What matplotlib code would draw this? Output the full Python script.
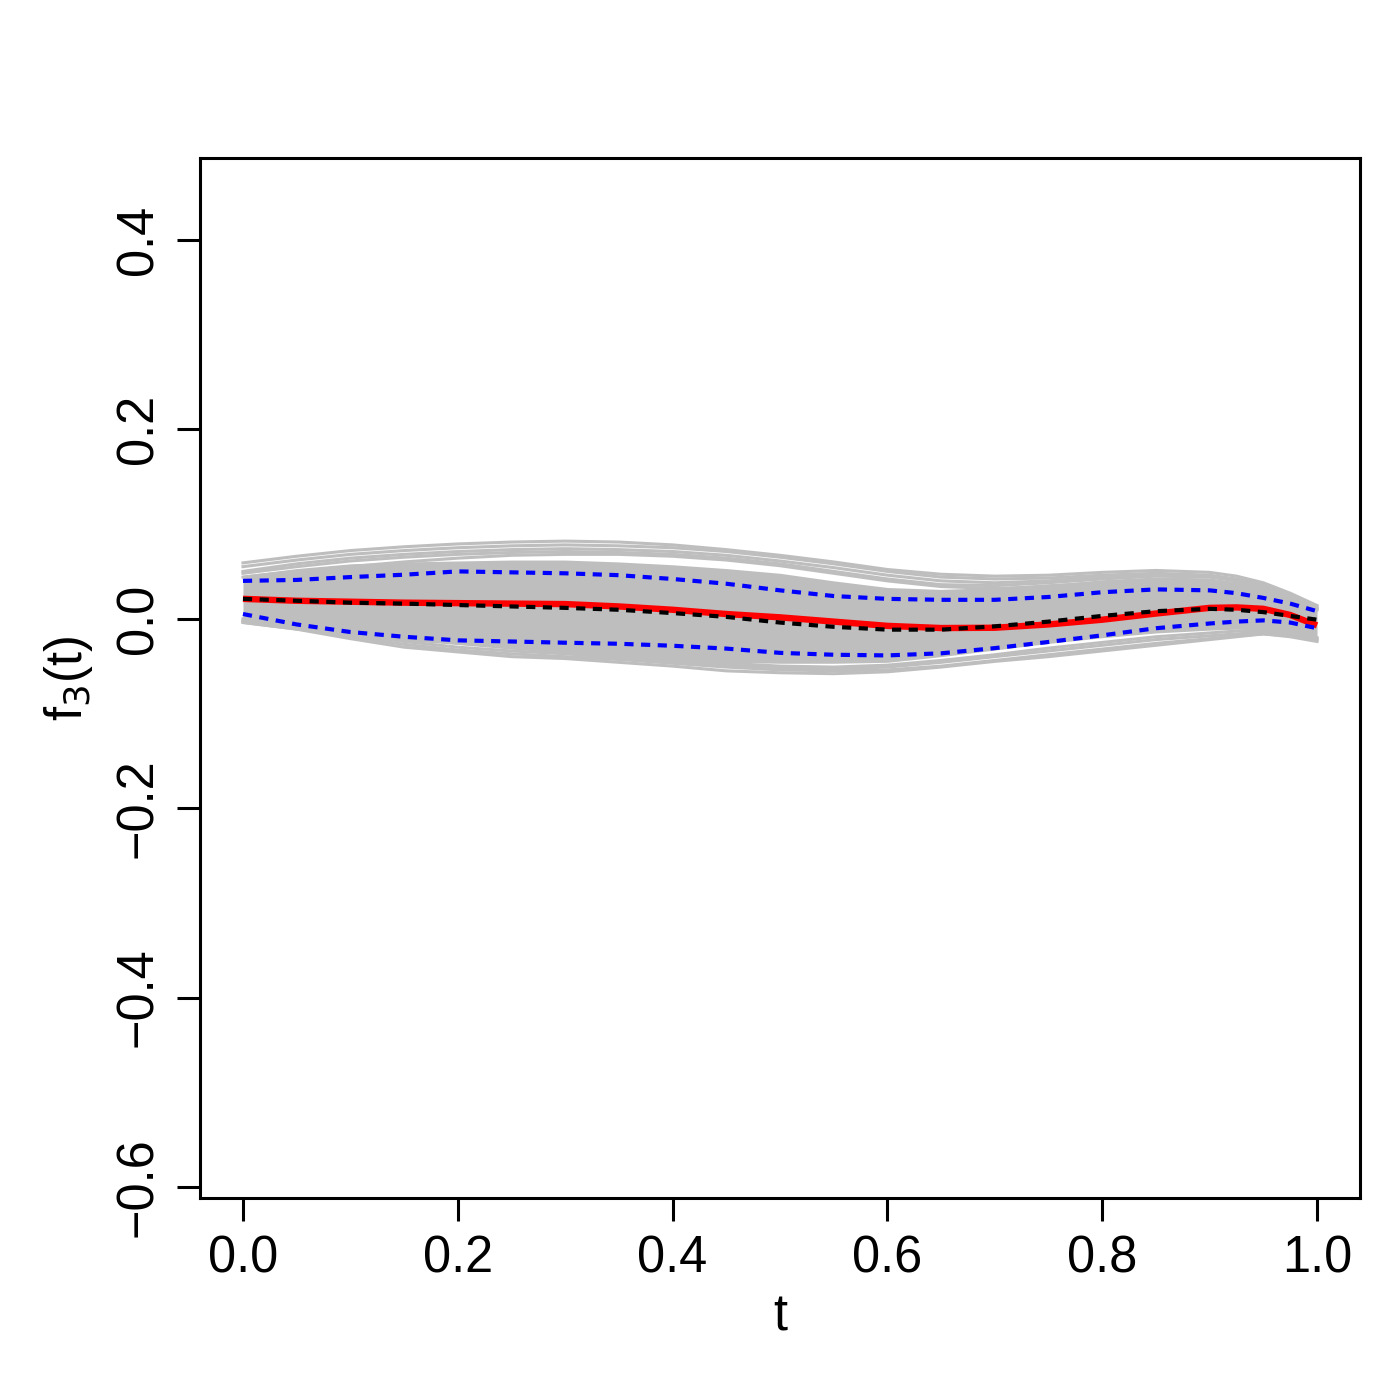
import numpy as np
import matplotlib
matplotlib.use("Agg")
import matplotlib.pyplot as plt

plt.rcParams["font.family"] = ["Liberation Sans", "DejaVu Sans"]

# grid of t values (a little denser near the right end)
t = [0.00, 0.05, 0.10, 0.15, 0.20, 0.25, 0.30, 0.35, 0.40, 0.45, 0.50,
     0.55, 0.60, 0.65, 0.70, 0.75, 0.80, 0.85, 0.90, 0.925, 0.95, 0.975, 1.00]

# true function (red)
f_true = [0.021, 0.019, 0.018, 0.017, 0.0165, 0.016, 0.0155, 0.013, 0.0095, 0.005, 0.0015,
          -0.003, -0.0075, -0.0098, -0.0095, -0.006, -0.001, 0.0055, 0.0115, 0.012, 0.0105, 0.004, -0.007]

# mean estimate (black dashed)
f_mean = [0.021, 0.019, 0.017, 0.016, 0.0145, 0.013, 0.0115, 0.0095, 0.006, 0.002, -0.004,
          -0.0085, -0.0115, -0.0115, -0.008, -0.003, 0.003, 0.008, 0.0105, 0.0095, 0.007, 0.003, -0.001]

# pointwise band (blue dashed)
f_upper = [0.040, 0.041, 0.044, 0.0465, 0.050, 0.049, 0.048, 0.046, 0.042, 0.037, 0.030,
           0.024, 0.021, 0.020, 0.020, 0.023, 0.028, 0.031, 0.030, 0.027, 0.022, 0.016, 0.008]
f_lower = [0.005, -0.006, -0.014, -0.019, -0.0228, -0.024, -0.0253, -0.0264, -0.0285, -0.0315, -0.036,
           -0.038, -0.0387, -0.0365, -0.031, -0.0245, -0.0175, -0.010, -0.005, -0.003, -0.0017, -0.004, -0.010]

# dense core of the replicate estimates (gray)
core_hi = [0.046, 0.053, 0.058, 0.060, 0.061, 0.062, 0.062, 0.060, 0.057, 0.053, 0.048,
           0.040, 0.033, 0.031, 0.033, 0.037, 0.040, 0.043, 0.042, 0.039, 0.033, 0.024, 0.012]
core_lo = [-0.005, -0.012, -0.018, -0.023, -0.027, -0.030, -0.035, -0.040, -0.045, -0.046, -0.047,
           -0.047, -0.046, -0.040, -0.033, -0.026, -0.020, -0.015, -0.012, -0.011, -0.012, -0.016, -0.022]

# outer replicate curves (gray)
rep_top1 = [0.059, 0.066, 0.072, 0.076, 0.079, 0.081, 0.082, 0.081, 0.078, 0.073, 0.067,
            0.060, 0.052, 0.047, 0.045, 0.046, 0.049, 0.051, 0.049, 0.045, 0.038, 0.027, 0.014]
rep_top2 = [0.055, 0.062, 0.068, 0.072, 0.075, 0.077, 0.078, 0.077, 0.075, 0.071, 0.065,
            0.058, 0.050, 0.044, 0.042, 0.043, 0.046, 0.048, 0.046, 0.042, 0.036, 0.025, 0.012]
rep_top3 = [0.050, 0.058, 0.064, 0.068, 0.071, 0.073, 0.074, 0.073, 0.071, 0.067, 0.061,
            0.054, 0.046, 0.040, 0.038, 0.040, 0.044, 0.047, 0.045, 0.041, 0.035, 0.024, 0.011]
rep_top4 = [0.048, 0.055, 0.061, 0.065, 0.068, 0.070, 0.071, 0.070, 0.068, 0.064, 0.058,
            0.050, 0.042, 0.036, 0.035, 0.038, 0.042, 0.045, 0.044, 0.040, 0.034, 0.023, 0.010]
rep_top5 = [0.044, 0.050, 0.055, 0.060, 0.064, 0.067, 0.068, 0.068, 0.066, 0.062, 0.056,
            0.048, 0.040, 0.034, 0.032, 0.034, 0.039, 0.042, 0.041, 0.037, 0.032, 0.021, 0.009]
rep_bot1 = [-0.004, -0.011, -0.021, -0.030, -0.035, -0.040, -0.042, -0.046, -0.050, -0.055, -0.057,
            -0.058, -0.056, -0.051, -0.045, -0.040, -0.034, -0.028, -0.022, -0.019, -0.016, -0.018, -0.022]
rep_bot2 = [-0.003, -0.010, -0.019, -0.027, -0.033, -0.037, -0.040, -0.043, -0.047, -0.051, -0.054,
            -0.055, -0.054, -0.050, -0.044, -0.038, -0.032, -0.026, -0.021, -0.018, -0.016, -0.019, -0.024]
rep_bot3 = [-0.002, -0.009, -0.017, -0.024, -0.030, -0.034, -0.037, -0.041, -0.045, -0.049, -0.052,
            -0.053, -0.051, -0.046, -0.040, -0.034, -0.028, -0.022, -0.018, -0.016, -0.014, -0.017, -0.021]
rep_bot4 = [0.000, -0.007, -0.014, -0.020, -0.026, -0.031, -0.035, -0.039, -0.043, -0.047, -0.050,
            -0.051, -0.049, -0.044, -0.038, -0.031, -0.025, -0.019, -0.015, -0.013, -0.012, -0.015, -0.020]

x_ticks = [0.0, 0.2, 0.4, 0.6, 0.8, 1.0]
y_ticks = [-0.6, -0.4, -0.2, 0.0, 0.2, 0.4]

GRAY = "#BEBEBE"

fig = plt.figure(figsize=(7, 7), dpi=200)
ax = fig.add_axes([200 / 1400, 1 - 1198 / 1400, 1160 / 1400, 1040 / 1400])

ax.fill_between(t, core_lo, core_hi, color=GRAY, linewidth=0)
for rep in [rep_top1, rep_top2, rep_top3, rep_top4, rep_top5,
            rep_bot1, rep_bot2, rep_bot3, rep_bot4]:
    ax.plot(t, rep, color=GRAY, lw=1.1)

ax.plot(t, f_true, color="#FF0000", lw=2.3, solid_capstyle="butt")
ax.plot(t, f_mean, color="black", lw=1.5, linestyle=(0, (2.2, 1.8)))
ax.plot(t, f_upper, color="#0000FF", lw=1.5, linestyle=(0, (2.2, 1.8)))
ax.plot(t, f_lower, color="#0000FF", lw=1.5, linestyle=(0, (2.2, 1.8)))

ax.set_xlim(-0.04, 1.04)
ax.set_ylim(-0.6116, 0.4865)

ax.set_xticks(x_ticks)
ax.set_xticklabels([f"{v:.1f}" for v in x_ticks])
ax.set_yticks(y_ticks)
ax.set_yticklabels(["\u22120.6", "\u22120.4", "\u22120.2", "0.0", "0.2", "0.4"],
                   rotation=90, va="center")

for s in ax.spines.values():
    s.set_linewidth(1.1)
ax.tick_params(direction="out", length=8.3, width=1.1, labelsize=18.2, pad=5)

ax.set_xlabel("t", fontsize=18.2, labelpad=3)
ax.set_ylabel(r"f$_3$(t)", fontsize=18.2, labelpad=7)

fig.savefig("out.png", dpi=200)
